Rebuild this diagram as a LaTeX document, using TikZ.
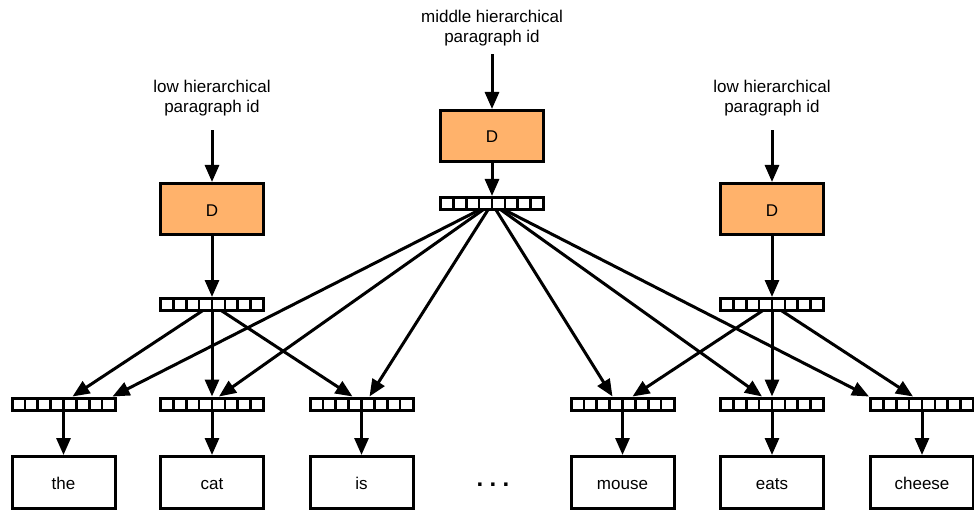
\documentclass[tikz,border=0pt]{standalone}
\usepackage{fontspec}
\setmainfont{Liberation Sans}
\usetikzlibrary{arrows.meta,backgrounds,calc}
\definecolor{dorange}{RGB}{255,178,107}
\begin{document}
\begin{tikzpicture}[x=1pt,y=-1pt,
  line width=3pt,
  every node/.style={font=\fontsize{17}{19.5}\selectfont},
  dbox/.style={draw,line width=3pt,fill=dorange,minimum width=103pt,minimum height=51pt,inner sep=0pt,text height=14pt,text depth=0pt},
  wordbox/.style={draw,line width=3pt,fill=white,minimum width=103pt,minimum height=52pt,inner sep=0pt,text height=14pt,text depth=0pt},
  vecbox/.style={draw,line width=3pt,fill=white,minimum width=103pt,minimum height=12pt,inner sep=0pt,
     path picture={\foreach \i in {1,...,7}{\draw[line width=2.6pt]
       ($(path picture bounding box.north west)!\i/8!(path picture bounding box.north east)$) --
       ($(path picture bounding box.south west)!\i/8!(path picture bounding box.south east)$);}}},
  lbl/.style={align=center,inner sep=0pt},
  arr/.style={line width=3pt,-{Triangle[length=17pt,width=14pt]}},
]
\useasboundingbox (0,0) rectangle (974,513);

% labels
\node[lbl] (tM) at (492,28) {middle hierarchical\\paragraph id};
\node[lbl] (tL) at (212,98) {low hierarchical\\paragraph id};
\node[lbl] (tR) at (772,98) {low hierarchical\\paragraph id};

% D boxes
\node[dbox] (dM) at (492,136) {D};
\node[dbox] (dL) at (212,209) {D};
\node[dbox] (dR) at (772,209) {D};

% upper vectors
\node[vecbox] (vM) at (492,203.5) {};
\node[vecbox] (vL) at (212,304.5) {};
\node[vecbox] (vR) at (772,304.5) {};

% lower vectors
\node[vecbox] (vThe) at (63.5,404) {};
\node[vecbox] (vCat) at (212,404) {};
\node[vecbox] (vIs) at (361.5,404) {};
\node[vecbox] (vMouse) at (622.5,404) {};
\node[vecbox] (vEats) at (772,404) {};
\node[vecbox] (vCheese) at (922,404) {};

% word boxes
\node[wordbox] (wThe) at (63.5,482.5) {the};
\node[wordbox] (wCat) at (212,482.5) {cat};
\node[wordbox] (wIs) at (361.5,482.5) {is};
\node[wordbox] (wMouse) at (622.5,482.5) {mouse};
\node[wordbox] (wEats) at (772,482.5) {eats};
\node[wordbox] (wCheese) at (922,482.5) {cheese};

\node[anchor=base,inner sep=0pt] (dots) at (493,486) {\fontsize{24}{24}\selectfont\bfseries .\hspace{6.3pt}.\hspace{6.3pt}.};

% top arrows
\draw[arr] ([yshift=-7pt]tM.south) -- (dM.north);
\draw[arr] ([yshift=-13pt]tL.south) -- (dL.north);
\draw[arr] ([yshift=-13pt]tR.south) -- (dR.north);
\draw[arr] (dM) -- (vM.north);
\draw[arr] (dL) -- (vL.north);
\draw[arr] (dR) -- (vR.north);

% vectors to words
\draw[arr] (vThe) -- (wThe);
\draw[arr] (vCat) -- (wCat);
\draw[arr] (vIs) -- (wIs);
\draw[arr] (vMouse) -- (wMouse);
\draw[arr] (vEats) -- (wEats);
\draw[arr] (vCheese) -- (wCheese);

% fan connectors
\begin{scope}[on background layer]
\draw[arr] (vL.center) -- ([xshift=9pt]vThe.north);
\draw[arr] (vL.center) -- (vCat.north);
\draw[arr] (vL.center) -- ([xshift=-9pt]vIs.north);
\draw[arr] (vM.center) -- ([xshift=49pt]vThe.north);
\draw[arr] (vM.center) -- ([xshift=7pt]vCat.north);
\draw[arr] (vM.center) -- ([xshift=8pt]vIs.north);
\draw[arr] (vM.center) -- ([xshift=-10pt]vMouse.north);
\draw[arr] (vM.center) -- ([xshift=-10pt]vEats.north);
\draw[arr] (vM.center) -- ([xshift=-53pt]vCheese.north);
\draw[arr] (vR.center) -- ([xshift=10pt]vMouse.north);
\draw[arr] (vR.center) -- (vEats.north);
\draw[arr] (vR.center) -- ([xshift=-9pt]vCheese.north);
\end{scope}
\end{tikzpicture}
\end{document}
